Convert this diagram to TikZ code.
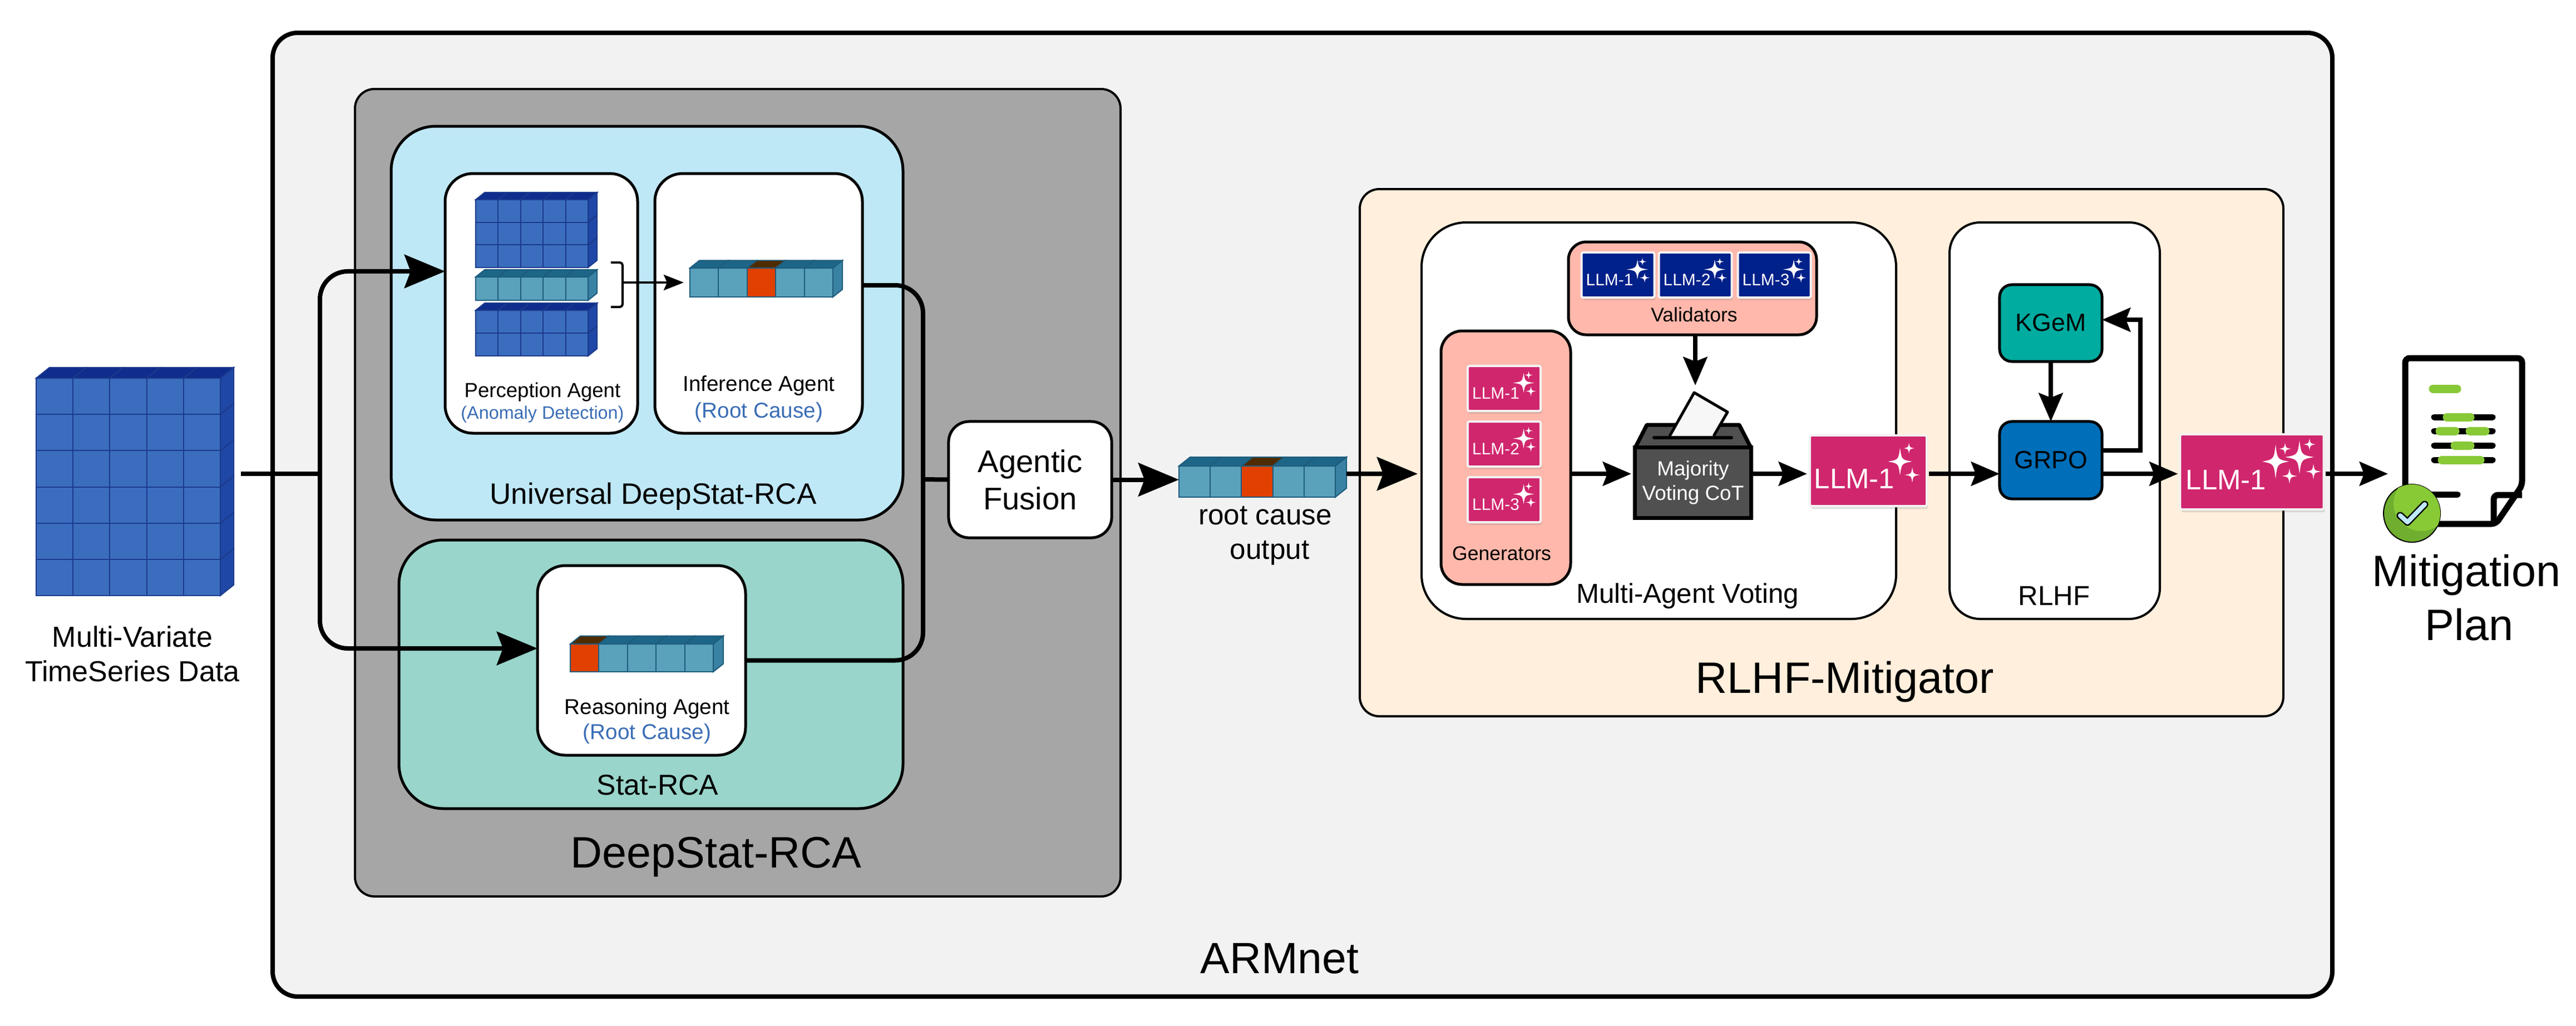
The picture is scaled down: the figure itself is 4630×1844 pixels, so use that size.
\documentclass[tikz,border=0pt]{standalone}
\usepackage{fontspec}
\setmainfont{Liberation Sans}
\usetikzlibrary{arrows.meta,calc,shadows}

\definecolor{armbg}{HTML}{F2F2F2}
\definecolor{deepbg}{HTML}{A6A6A6}
\definecolor{univbg}{HTML}{BFE8F7}
\definecolor{statbg}{HTML}{99D5CA}
\definecolor{mitigbg}{HTML}{FFEFDC}
\definecolor{salmonbg}{HTML}{FFB8AB}
\definecolor{pinkchip}{HTML}{D0266D}
\definecolor{navychip}{HTML}{00208A}
\definecolor{kgemfill}{HTML}{00AB9F}
\definecolor{grpofill}{HTML}{006EB8}
\definecolor{ballotfill}{HTML}{505050}
\definecolor{notecolor}{HTML}{3A6DB5}
\definecolor{leaf}{HTML}{88C936}
\definecolor{darkleaf}{HTML}{6FAE2E}
\definecolor{bluefront}{HTML}{3B6DBF}
\definecolor{bluetop}{HTML}{0F2D8C}
\definecolor{blueside}{HTML}{1F47A5}
\definecolor{bluerule}{HTML}{1C3A8C}
\definecolor{tealfront}{HTML}{5AA1BB}
\definecolor{tealtop}{HTML}{1D6688}
\definecolor{tealside}{HTML}{3A82A3}
\definecolor{tealrule}{HTML}{1D5C7C}
\definecolor{hotfront}{HTML}{E14000}
\definecolor{hottop}{HTML}{4F2C00}

\newcommand{\fsz}[1]{\fontsize{#1}{#1}\selectfont}

\tikzset{
  panel/.style={draw=black, line width=.05cm, inner sep=0, outer sep=0},
  flow/.style={line width=.08cm, >={Stealth[length=.51cm, width=.43cm, inset=.08cm]}},
  mainflow/.style={line width=.08cm, >={Stealth[length=.73cm, width=.6cm, inset=.11cm]}},
  thinflow/.style={line width=.04cm, >={Stealth[length=.36cm, width=.28cm, inset=.06cm]}},
  chip/.style={draw=white!90!gray, line width=.04cm, inner sep=0, outer sep=0, rounded corners=.03cm,
    drop shadow={shadow xshift=.02cm, shadow yshift=-.05cm, opacity=.25}},
  sparkle/.pic={
    \fill[white] (0,-1) .. controls (.13,-.13) .. (1,0) .. controls (.13,.13) .. (0,1)
      .. controls (-.13,.13) .. (-1,0) .. controls (-.13,-.13) .. (0,-1) -- cycle;
  }
}

\newcommand{\panelbox}[6]{
  \node[panel, #2, minimum width={(#5-#3)*.01cm}, minimum height={(#6-#4)*.01cm}]
    (#1) at ({(#3+#5)/2},{(#4+#6)/2}) {};
}

\newcommand{\llmchip}[5]{
  \node[chip, fill=#2, minimum width=1.31cm, minimum height=.81cm] (#1) at (#3,#4) {};
  \node[white, inner sep=0, font=\fsz{8.5}] (#1txt) at ([shift={(-15,9)}]#1.center) {#5};
  \pic[xscale=19, yscale=18] at ([shift={(35,-10)}]#1.center) {sparkle};
  \pic[scale=7] at ([shift={(44,-24)}]#1.center) {sparkle};
  \pic[scale=9] at ([shift={(48,5)}]#1.center) {sparkle};
}

\newcommand{\cuboid}[9]{
  \pgfmathsetmacro{\cellw}{(#5-#3)/5}
  \pgfmathsetmacro{\cellh}{(#6-#4)/#7}
  \pgfmathsetmacro{\depthy}{.8*#8}
  \pgfmathtruncatemacro{\lastrow}{#7-1}
  \foreach \colidx in {0,...,4} {
    \ifnum\colidx=#9 \colorlet{cellfront}{hotfront}\colorlet{celltop}{hottop}%
    \else \colorlet{cellfront}{#1front}\colorlet{celltop}{#1top}\fi
    \foreach \rowidx in {0,...,\lastrow}
      \draw[draw=#1rule, fill=cellfront, line width=.02cm]
        ({#3+\colidx*\cellw},{#4+\rowidx*\cellh}) rectangle ++(\cellw,\cellh);
    \draw[draw=#1rule, fill=celltop, line width=.02cm]
      ({#3+\colidx*\cellw},#4) -- ++(#8,-\depthy) -- ++(\cellw,0) -- ++(-#8,\depthy) -- cycle;
  }
  \foreach \rowidx in {0,...,\lastrow}
    \draw[draw=#1rule, fill=#1side, line width=.02cm]
      (#5,{#4+\rowidx*\cellh}) -- ++(#8,-\depthy) -- ++(0,\cellh) -- ++(-#8,\depthy) -- cycle;
  \node[inner sep=0, outer sep=0, minimum width={(#5-#3+#8)*.01cm}, minimum height={(#6-#4+\depthy)*.01cm}]
    (#2) at ({(#3+#5+#8)/2},{(#4+#6-\depthy)/2}) {};
}

\begin{document}
\begin{tikzpicture}[x=.01cm, y=-.01cm]
  \useasboundingbox (0,0) rectangle (4630,1844);

  \panelbox{armnet}{fill=armbg, line width=.08cm, rounded corners=.45cm}{490}{59}{4192}{1792}
  \panelbox{deepstat}{fill=deepbg, line width=.04cm, rounded corners=.35cm}{638}{160}{2014}{1612}
  \panelbox{universal}{fill=univbg, rounded corners=.8cm}{703}{227}{1623}{935}
  \panelbox{statrca}{fill=statbg, rounded corners=.8cm}{717}{971}{1623}{1454}
  \panelbox{perception}{fill=white, rounded corners=.5cm}{800}{312}{1146}{779}
  \panelbox{inference}{fill=white, rounded corners=.5cm}{1177}{312}{1550}{779}
  \panelbox{reasoning}{fill=white, rounded corners=.5cm}{966}{1017}{1340}{1358}
  \panelbox{mitigator}{fill=mitigbg, line width=.04cm, rounded corners=.35cm}{2444}{340}{4104}{1288}
  \panelbox{voting}{fill=white, line width=.04cm, rounded corners=.8cm}{2555}{400}{3408}{1113}
  \panelbox{rlhf}{fill=white, line width=.04cm, rounded corners=.55cm}{3504}{400}{3882}{1113}

  \cuboid{blue}{datacube}{65}{680}{396}{1071}{6}{24}{-1}
  \cuboid{blue}{windowa}{855}{359}{1057}{481}{3}{16}{-1}
  \cuboid{teal}{windowb}{855}{498}{1057}{540}{1}{16}{-1}
  \cuboid{blue}{windowc}{855}{558}{1057}{640}{2}{16}{-1}
  \cuboid{teal}{infvec}{1240}{482}{1497}{534}{1}{17}{2}
  \cuboid{teal}{reasvec}{1025}{1158}{1282}{1208}{1}{18}{0}
  \cuboid{teal}{outvec}{2119}{838}{2400}{894}{1}{20}{2}

  \coordinate (lane) at (0,852);
  \coordinate (split) at (575,852);
  \coordinate (merge) at (1659,862);
  \coordinate (brace) at (1119,508);
  \coordinate (votein) at (2548,852);
  \coordinate (planin) at (4292,852);
  \coordinate (dropin) at (3047,693);

  \draw[line width=.04cm, rounded corners=.05cm] (1098,472) -- (1119,472) -- (1119,552) -- (1098,552);
  \draw[thinflow, ->, shorten >=.11cm] (brace) -- (brace -| infvec.west);

  \draw[mainflow] ([xshift=.13cm]datacube.east |- lane) -- (split);
  \draw[mainflow, ->, rounded corners=.5cm] (split) |- ([yshift=.575cm]perception.west);
  \draw[mainflow, ->, rounded corners=.5cm] (split) |- ([yshift=.215cm]reasoning.west);
  \draw[mainflow, rounded corners=.5cm] ([yshift=.325cm]inference.east) -| (merge) |- (reasoning.east);

  \node[panel, fill=white, rounded corners=.37cm, minimum width=2.93cm, minimum height=2.09cm, align=center,
    font=\fsz{16}, text depth=0pt] (fusion) at (1851.5,862.5) {Agentic\\[3pt]Fusion};
  \draw[mainflow] (merge) -- (fusion.west);
  \draw[mainflow, ->] (fusion.east) -- (fusion.east -| outvec.west);
  \draw[mainflow, ->] ([yshift=.06cm]outvec.east) -- (votein);

  \panelbox{generators}{fill=salmonbg, rounded corners=.38cm}{2590}{595}{2823}{1051}
  \panelbox{validators}{fill=salmonbg, rounded corners=.32cm}{2819}{435}{3265}{602}
  \llmchip{gena}{pinkchip}{2703.5}{698.5}{LLM-1}
  \llmchip{genb}{pinkchip}{2703.5}{798.5}{LLM-2}
  \llmchip{genc}{pinkchip}{2703.5}{898.5}{LLM-3}
  \llmchip{vala}{navychip}{2908}{494.5}{LLM-1}
  \llmchip{valb}{navychip}{3047}{494.5}{LLM-2}
  \llmchip{valc}{navychip}{3189}{494.5}{LLM-3}

  \draw[black, fill=ballotfill, line width=.07cm, line join=round] (2939,805) -- (2960,764) -- (3126,764) -- (3147,805) -- cycle;
  \draw[black, fill=white!97!black, line width=.05cm, line join=round] (3001,784) -- (3045,706) -- (3105,741) -- (3080,784);
  \draw[black, line width=.06cm, line cap=round] (2973,787) -- (3112,787);
  \node[panel, fill=ballotfill, line width=.07cm, minimum width=2.08cm, minimum height=1.26cm, align=center, text=white,
    font=\fsz{10.5}] (ballot) at (3043,868) {Majority\\[2pt]Voting CoT};

  \draw[flow, ->] (dropin |- validators.south) -- (dropin);
  \draw[flow, ->] (generators.east |- lane) -- ([xshift=-.07cm]ballot.west |- lane);

  \node[chip, fill=pinkchip, minimum width=2.1cm, minimum height=1.27cm] (llmvote) at (3358,846.5) {};
  \node[white, inner sep=0, font=\fsz{14.5}] (llmvotetxt) at (3333,861) {LLM-1};
  \pic[xscale=22, yscale=25] at (3415,830) {sparkle};
  \pic[scale=10] at (3431,806) {sparkle};
  \pic[scale=14] at (3437,854) {sparkle};
  \draw[flow, ->] (ballot.east |- lane) -- ([xshift=-.05cm]llmvote.west |- lane);

  \node[panel, fill=kgemfill, rounded corners=.22cm, minimum width=1.84cm, minimum height=1.38cm, font=\fsz{12.7}] (kgem) at (3686,581) {\raisebox{.03cm}{KGeM}};
  \node[panel, fill=grpofill, rounded corners=.22cm, minimum width=1.84cm, minimum height=1.39cm, font=\fsz{12.7}] (grpo) at (3686,827.5) {\raisebox{-.05cm}{GRPO}};
  \draw[flow, ->] (kgem.south) -- (grpo.north);
  \coordinate (loopback) at (3847,810);
  \draw[flow, ->] (grpo.east |- loopback) -- (loopback) |- ([yshift=.06cm]kgem.east);
  \draw[flow, ->] ([xshift=.04cm]llmvote.east |- lane) -- (grpo.west |- lane);

  \node[chip, fill=pinkchip, minimum width=2.58cm, minimum height=1.35cm] (llmplan) at (4047.5,848.5) {};
  \node[white, inner sep=0, font=\fsz{14.5}] (llmplantxt) at (4001,863) {LLM-1};
  \pic[xscale=24, yscale=31] at (4090,830) {sparkle};
  \pic[xscale=26, yscale=30] at (4133,822) {sparkle};
  \pic[scale=11] at (4107,807) {sparkle};
  \pic[scale=11] at (4151,799) {sparkle};
  \pic[scale=14] at (4115,856) {sparkle};
  \pic[scale=14] at (4158,848) {sparkle};
  \draw[flow, ->] (grpo.east |- lane) -- ([xshift=-.04cm]llmplan.west |- lane);
  \draw[flow, ->] ([xshift=.03cm]llmplan.east |- lane) -- (planin);

  \draw[line width=.11cm, fill=white, rounded corners=.08cm] (4323,960) -- (4323,644) -- (4533,644) -- (4533,873) -- (4486,942) -- (4340,942);
  \draw[line width=.11cm, rounded corners=.08cm] (4533,890) -- (4482,890) -- (4482,940);
  \draw[line width=.11cm, line cap=round] (4350,889) -- (4417,889);
  \foreach \rowy in {750,775,801,827}
    \draw[line width=.11cm, line cap=round] (4375,\rowy) -- (4480,\rowy);
  \foreach \pillx/\pilly/\pillend in {4373/699/4416, 4398/750/4440, 4385/775/4413, 4439/775/4467, 4412/801/4440, 4389/827/4458}
    \draw[leaf, line width=.15cm, line cap=round] (\pillx,\pilly) -- (\pillend,\pilly);

  \draw[black, fill=darkleaf, line width=.02cm] (4335,923) ellipse (51 and 52);
  \begin{scope}
    \clip (4335,923) ellipse (51 and 52);
    \fill[leaf] (4352,905) circle (50);
  \end{scope}
  \draw[black, line width=.13cm, line cap=round, line join=round] (4314,927) -- (4327,939) -- (4358,907);
  \draw[white!75!cyan, line width=.08cm, line cap=round, line join=round] (4314,927) -- (4327,939) -- (4358,907);

  \node[inner sep=0, align=center, font=\fsz{14.8}] (datatxt) at (238,1176) {Multi-Variate\\[3pt]TimeSeries Data};
  \node[inner sep=0, font=\fsz{10.4}] (perctxt) at (975,705) {Perception Agent};
  \node[inner sep=0, font=\fsz{9.2}, text=notecolor] (percnote) at (975,745) {(Anomaly Detection)};
  \node[inner sep=0, font=\fsz{11}] (inftxt) at (1364,693) {Inference Agent};
  \node[inner sep=0, font=\fsz{11}, text=notecolor] (infnote) at (1364,741) {(Root Cause)};
  \node[inner sep=0, font=\fsz{11}] (reastxt) at (1163,1274) {Reasoning Agent};
  \node[inner sep=0, font=\fsz{11}, text=notecolor] (reasnote) at (1163,1319) {(Root Cause)};
  \node[inner sep=0, font=\fsz{15.1}] (univtxt) at (1174,893) {Universal DeepStat-RCA};
  \node[inner sep=0, font=\fsz{14.7}] (stattxt) at (1182,1412) {Stat-RCA};
  \node[inner sep=0, font=\fsz{22.5}] (deeptxt) at (1287,1541) {DeepStat-RCA};
  \node[inner sep=0, font=\fsz{22.4}] (armtxt) at (2300,1724) {ARMnet};
  \node[inner sep=0, font=\fsz{22.5}] (mitigtxt) at (3316,1226) {RLHF-Mitigator};
  \node[inner sep=0, align=center, font=\fsz{14.6}] (outtxt) at (2274,963) {root cause\\[3pt]\hspace*{.16cm}output};
  \node[inner sep=0, font=\fsz{10.1}] (valtxt) at (3045,566) {Validators};
  \node[inner sep=0, font=\fsz{10.1}] (gentxt) at (2699,995) {Generators};
  \node[inner sep=0, font=\fsz{14}] (votetxt) at (3033,1072) {Multi-Agent Voting};
  \node[inner sep=0, font=\fsz{14}] (rlhftxt) at (3692,1072) {RLHF};
  \node[inner sep=0, align=center, font=\fsz{22.5}] (plantxt) at (4433,1075) {Mitigation\\[5pt]\hspace*{.1cm}Plan};
\end{tikzpicture}
\end{document}
